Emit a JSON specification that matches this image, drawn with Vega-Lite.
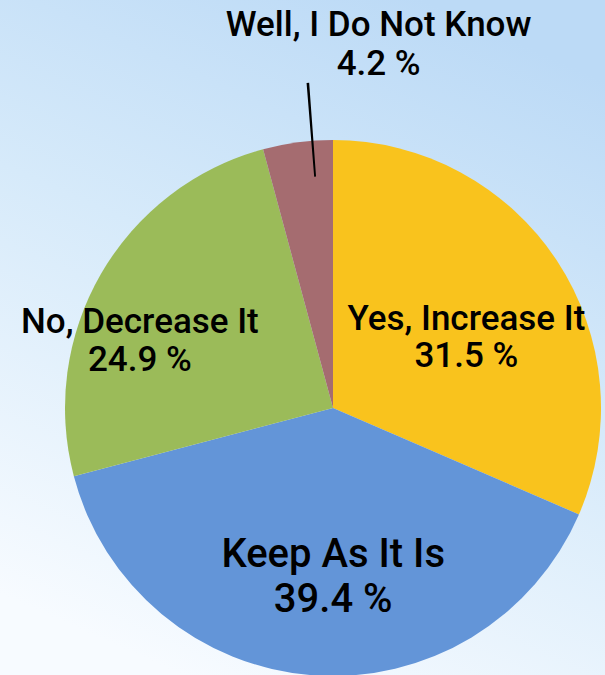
{
  "$schema": "https://vega.github.io/schema/vega-lite/v6.json",
  "width": 605,
  "height": 675,
  "padding": 0,
  "autosize": {"type": "none"},
  "background": "#ffffff",
  "config": {"view": {"stroke": null}},
  "datasets": {
    "answers": [
      {"category": "Yes, Increase It", "value": 31.5, "rank": 1},
      {"category": "Keep As It Is", "value": 39.4, "rank": 2},
      {"category": "No, Decrease It", "value": 24.9, "rank": 3},
      {"category": "Well, I Do Not Know", "value": 4.2, "rank": 4}
    ]
  },
  "layer": [
    {
      "data": {"values": [{}]},
      "mark": {
        "type": "rect",
        "color": {
          "gradient": "linear", "x1": 0.7, "y1": 0, "x2": 0.3, "y2": 1,
          "stops": [
            {"offset": 0, "color": "#bcdaf6"},
            {"offset": 0.45, "color": "#d6eafa"},
            {"offset": 1, "color": "#f7fbff"}
          ]
        }
      },
      "encoding": {
        "x": {"value": 0}, "x2": {"value": "width"},
        "y": {"value": 0}, "y2": {"value": "height"}
      }
    },
    {
      "data": {"name": "answers"},
      "mark": {"type": "arc", "outerRadius": 268, "x": 333, "y": 408},
      "encoding": {
        "theta": {"field": "value", "type": "quantitative", "stack": true},
        "order": {"field": "rank", "type": "quantitative"},
        "color": {
          "field": "category", "type": "nominal", "legend": null,
          "scale": {
            "domain": ["Yes, Increase It", "Keep As It Is", "No, Decrease It", "Well, I Do Not Know"],
            "range": ["#f9c31d", "#6395d8", "#9bbb59", "#a56c70"]
          }
        }
      }
    },
    {
      "data": {"values": [{}]},
      "mark": {"type": "arc", "x": 333, "y": 408, "theta": 6.202, "theta2": 6.21, "radius": 326, "radius2": 232, "fill": "#000000"},
      "encoding": {}
    },
    {
      "data": {"name": "answers"},
      "transform": [{"calculate": "datum.category + '\\n' + format(datum.value, '.1f') + ' %'", "as": "label"}],
      "encoding": {
        "theta": {"field": "value", "type": "quantitative", "stack": true},
        "order": {"field": "rank", "type": "quantitative"}
      },
      "layer": [
        {
          "mark": {"type": "text", "x": 333, "y": 408, "radius": 150, "dx": 8, "dy": -6.5, "font": "Roboto", "fontWeight": 500, "fontSize": 35, "lineHeight": 37, "lineBreak": "\n", "color": "#000000", "baseline": "middle", "align": "center"},
          "encoding": {"text": {"condition": {"test": "datum.category === 'Yes, Increase It'", "field": "label"}, "value": ""}}
        },
        {
          "mark": {"type": "text", "x": 333, "y": 408, "radius": 170, "dx": 13, "dy": -22.5, "font": "Roboto", "fontWeight": 500, "fontSize": 40, "lineHeight": 45, "lineBreak": "\n", "color": "#000000", "baseline": "middle", "align": "center"},
          "encoding": {"text": {"condition": {"test": "datum.category === 'Keep As It Is'", "field": "label"}, "value": ""}}
        },
        {
          "mark": {"type": "text", "x": 333, "y": 408, "radius": 200, "dx": -20, "dy": 14, "font": "Roboto", "fontWeight": 500, "fontSize": 35, "lineHeight": 38, "lineBreak": "\n", "color": "#000000", "baseline": "middle", "align": "center"},
          "encoding": {"text": {"condition": {"test": "datum.category === 'No, Decrease It'", "field": "label"}, "value": ""}}
        },
        {
          "mark": {"type": "text", "x": 333, "y": 408, "radius": 360, "dx": 93, "dy": -26.5, "font": "Roboto", "fontWeight": 500, "fontSize": 35, "lineHeight": 39, "lineBreak": "\n", "color": "#000000", "baseline": "middle", "align": "center"},
          "encoding": {"text": {"condition": {"test": "datum.category === 'Well, I Do Not Know'", "field": "label"}, "value": ""}}
        }
      ]
    }
  ]
}
